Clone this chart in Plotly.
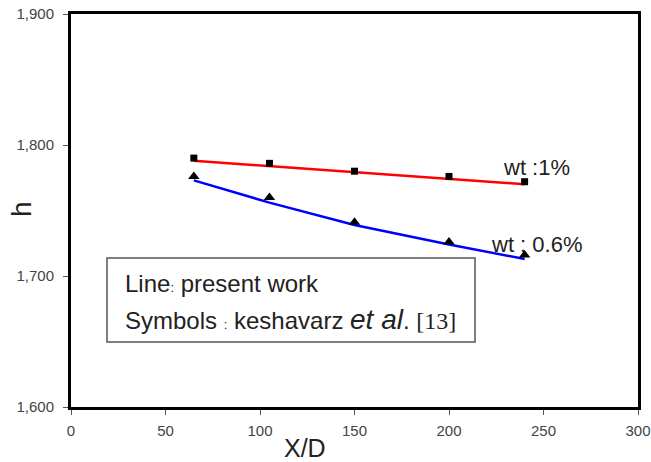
import plotly.graph_objects as go

# Data
x_pts = [65, 105, 150, 200, 240]
sym_wt1 = [1.790, 1.786, 1.780, 1.776, 1.772]
sym_wt06 = [1.776, 1.760, 1.741, 1.726, 1.716]
line_wt1 = [1.788, 1.784, 1.779, 1.774, 1.770]
line_wt06 = [1.773, 1.756, 1.739, 1.724, 1.713]
x_ticks = [0, 50, 100, 150, 200, 250, 300]
y_ticks = [1.6, 1.7, 1.8, 1.9]
y_tick_labels = ["1,600", "1,700", "1,800", "1,900"]

W, H = 651, 462
L, R, T, B = 71, 13, 14, 55
PW, PH = W - L - R, H - T - B


def px(xp):
    return (xp - L) / PW


def py(yp):
    return (H - B - yp) / PH


fig = go.Figure()
fig.add_trace(go.Scatter(x=x_pts, y=line_wt1, mode="lines",
                         line=dict(color="#ff0000", width=2.5), showlegend=False))
fig.add_trace(go.Scatter(x=x_pts, y=line_wt06, mode="lines",
                         line=dict(color="#0000ff", width=2.5), showlegend=False))
fig.add_trace(go.Scatter(x=x_pts, y=sym_wt1, mode="markers",
                         marker=dict(symbol="square", size=7, color="black"), showlegend=False))
fig.add_trace(go.Scatter(x=x_pts, y=sym_wt06, mode="markers",
                         marker=dict(symbol="triangle-up", size=10, color="black"), showlegend=False))

font_fam = "Liberation Sans, Arial, sans-serif"

fig.add_annotation(xref="paper", yref="paper", x=px(536), y=py(167), text="wt :1%",
                   showarrow=False, xanchor="center", yanchor="middle",
                   font=dict(family=font_fam, size=22, color="#222"))
fig.add_annotation(xref="paper", yref="paper", x=px(536), y=py(244), text="wt : 0.6%",
                   showarrow=False, xanchor="center", yanchor="middle",
                   font=dict(family=font_fam, size=22, color="#222"))

# Text box
fig.add_shape(type="rect", xref="paper", yref="paper",
              x0=px(107), x1=px(475), y0=py(342), y1=py(258),
              line=dict(color="#555", width=1.5), fillcolor="white", layer="below")
fig.add_annotation(xref="paper", yref="paper", x=px(123), y=py(283),
                   text="Line<span style='font-size:13px'>:</span> present work",
                   showarrow=False, xanchor="left", yanchor="middle",
                   font=dict(family=font_fam, size=24, color="#222"))
fig.add_annotation(xref="paper", yref="paper", x=px(123), y=py(319),
                   text="Symbols <span style='font-size:13px'>:</span> keshavarz <i><span style='font-size:28px'>et al</span></i>. <span style='font-family:Liberation Serif, serif'>[13]</span>",
                   showarrow=False, xanchor="left", yanchor="middle",
                   font=dict(family=font_fam, size=24, color="#222"))

# Axis titles
fig.add_annotation(xref="paper", yref="paper", x=px(305), y=py(448), text="X/D",
                   showarrow=False, xanchor="center", yanchor="middle",
                   font=dict(family=font_fam, size=25, color="#222"))
fig.add_annotation(xref="paper", yref="paper", x=px(21), y=py(209), text="h",
                   showarrow=False, xanchor="center", yanchor="middle", textangle=-90,
                   font=dict(family=font_fam, size=28, color="#222"))

fig.update_layout(
    width=W, height=H,
    margin=dict(l=L, r=R, t=T, b=B),
    plot_bgcolor="white", paper_bgcolor="white",
    font=dict(family=font_fam, color="#333"),
    xaxis=dict(range=[0, 300], tickvals=x_ticks, ticks="outside", ticklen=5,
               tickcolor="#555", showgrid=False, zeroline=False, automargin=False,
               showline=True, mirror=True, linecolor="black", linewidth=3,
               tickfont=dict(size=15, color="#444"), ticklabelstandoff=3),
    yaxis=dict(range=[1.6, 1.9], tickvals=y_ticks, ticktext=y_tick_labels,
               ticks="outside", ticklen=5, tickcolor="#555", showgrid=False,
               zeroline=False, showline=True, mirror=True, linecolor="black",
               automargin=False, ticklabelstandoff=6,
               linewidth=3, tickfont=dict(size=15, color="#444")),
)

fig.write_html("out.html")
